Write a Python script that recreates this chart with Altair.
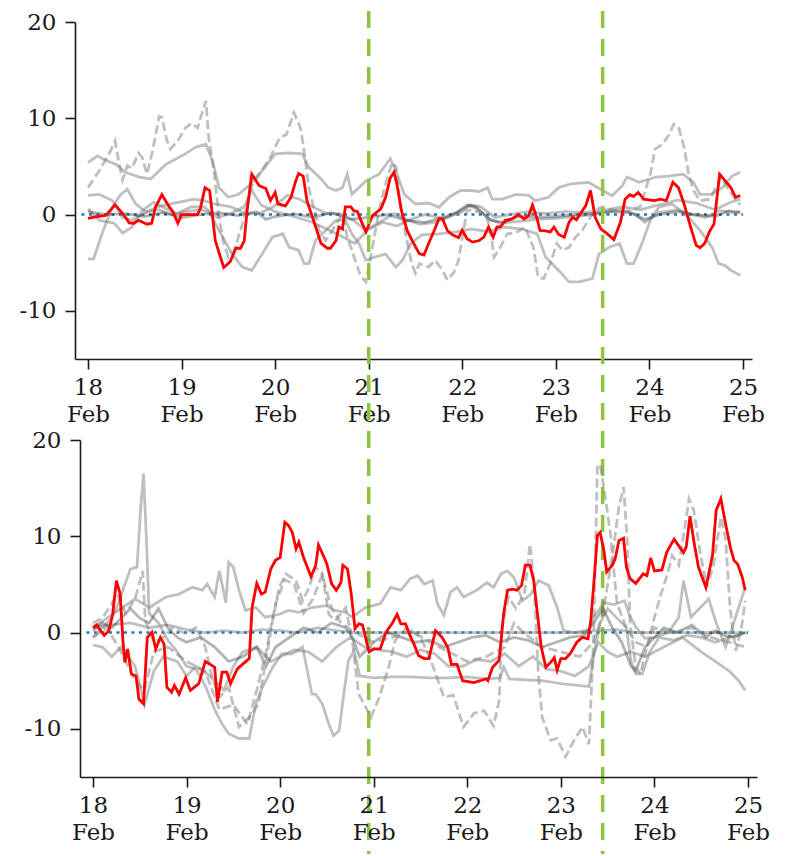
import altair as alt
import pandas as pd

# ---------------- data (day of February as decimal) ----------------
TOP_RED = [(18.0,-0.4),(18.1,-0.2),(18.19,-0.1),(18.29,1.0),(18.38,0.0),(18.44,-0.86),(18.49,-0.9),(18.54,-0.6),
 (18.63,-1.0),(18.68,-0.9),(18.72,0.76),(18.79,2.07),(18.86,0.93),(18.91,0.24),(18.96,-0.9),(19.0,0.0),(19.08,0.0),
 (19.17,0.0),(19.2,0.6),(19.25,2.8),(19.30,2.5),(19.36,-2.7),(19.45,-5.5),(19.52,-4.9),(19.58,-3.5),(19.63,-3.5),
 (19.67,-2.7),(19.70,0.4),(19.75,4.2),(19.83,3.0),(19.9,2.7),(19.95,1.45),(20.0,2.3),(20.03,1.1),(20.11,0.9),
 (20.17,1.8),(20.22,3.5),(20.25,4.27),(20.30,4.0),(20.34,1.45),(20.41,-0.6),(20.49,-3.0),(20.56,-3.5),(20.59,-3.5),
 (20.65,-2.7),(20.68,-1.3),(20.72,-1.5),(20.75,0.8),(20.81,0.8),(20.84,0.4),(20.88,0.3),(20.91,-0.45),(20.97,-1.8),
 (21.04,-0.1),(21.13,0.6),(21.18,1.8),(21.23,3.8),(21.27,4.4),(21.30,3.2),(21.35,0.4),(21.41,-1.65),(21.48,-3.0),
 (21.54,-4.06),(21.59,-4.2),(21.64,-3.0),(21.70,-1.65),(21.75,-0.45),(21.79,-0.45),(21.84,-1.65),(21.89,-2.07),
 (21.96,-2.4),(22.0,-1.6),(22.05,-2.5),(22.11,-2.86),(22.18,-2.7),(22.23,-2.35),(22.28,-1.3),(22.33,-2.35),
 (22.37,-1.3),(22.41,-1.25),(22.46,-0.6),(22.53,-0.45),(22.60,0.0),(22.66,-0.45),(22.71,-0.1),(22.75,1.0),
 (22.80,-0.45),(22.83,-1.65),(22.89,-1.7),(22.94,-1.8),(22.98,-1.3),(23.03,-2.07),(23.09,-2.35),(23.14,-0.8),
 (23.18,-0.28),(23.22,-0.55),(23.26,0.07),(23.32,0.93),(23.37,2.5),(23.42,-0.28),(23.48,-1.48),(23.55,-2.0),
 (23.62,-2.6),(23.69,-0.8),(23.74,1.6),(23.79,2.07),(23.83,1.9),(23.88,2.3),(23.94,1.6),(24.05,1.45),(24.12,1.6),
 (24.18,1.45),(24.25,3.35),(24.31,2.8),(24.37,1.1),(24.44,-1.3),(24.50,-3.2),(24.54,-3.45),(24.59,-3.0),
 (24.64,-1.8),(24.69,-0.97),(24.75,4.2),(24.81,3.5),(24.87,2.8),(24.92,1.8),(24.97,1.96)]

TOP_GRAY_A = [(18.0,5.4),(18.1,6.1),(18.2,5.6),(18.3,5.2),(18.4,4.4),(18.55,3.9),(18.67,3.7),(18.83,5.2),(19.04,6.3),
 (19.15,7.0),(19.26,7.3),(19.33,5.6),(19.4,2.8),(19.5,1.8),(19.61,2.1),(19.72,3.0),(19.86,4.55),(20.0,6.3),(20.15,6.4),
 (20.29,6.3),(20.36,4.9),(20.47,3.9),(20.57,2.8),(20.65,2.5),(20.72,2.8),(20.77,4.2),(20.82,2.1),(20.97,3.5),(21.11,4.2),
 (21.23,5.8),(21.29,4.55),(21.38,2.1),(21.5,1.1),(21.64,1.2),(21.75,0.76),(21.86,1.8),(21.98,2.5),(22.09,2.5),
 (22.18,2.4),(22.27,2.8),(22.32,1.6),(22.43,1.6),(22.57,2.1),(22.71,2.0),(22.78,1.45),(22.92,1.8),(23.03,2.8),
 (23.16,3.2),(23.35,3.35),(23.5,2.5),(23.6,1.96),(23.71,3.0),(23.76,3.9),(23.89,3.35),(24.07,3.9),(24.21,4.0),
 (24.36,4.2),(24.47,3.35),(24.54,2.1),(24.65,2.1),(24.78,2.8),(24.88,4.0),(24.97,4.4)]

TOP_GRAY_B = [(18.0,-4.6),(18.06,-4.6),(18.15,-2.0),(18.26,0.76),(18.35,2.1),(18.42,2.65),(18.51,1.1),(18.62,0.3),
 (18.75,0.5),(18.9,0.0),(19.05,0.3),(19.2,0.5),(19.3,0.2),(19.40,-1.65),(19.54,-4.1),(19.65,-5.45),(19.75,-5.8),
 (19.86,-4.1),(19.97,-2.35),(20.08,-2.0),(20.15,-3.4),(20.25,-3.7),(20.31,-5.1),(20.36,-5.1),(20.43,-2.7),
 (20.54,-1.65),(20.65,-0.6),(20.75,-0.6),(20.82,-2.0),(20.9,-3.1),(20.97,-4.75),(21.07,-4.4),(21.18,-4.1),
 (21.29,-5.45),(21.36,-4.75),(21.45,-3.0),(21.57,-2.1),(21.75,-2.0),(21.93,-1.8),(22.1,-1.5),(22.28,-1.8),
 (22.45,-1.3),(22.64,-1.5),(22.8,-2.0),(22.89,-4.4),(23.03,-5.8),(23.14,-7.0),(23.25,-7.0),(23.39,-6.65),
 (23.46,-4.1),(23.57,-3.4),(23.68,-3.0),(23.76,-5.1),(23.83,-5.1),(23.92,-3.0),(24.01,-0.6),(24.1,0.76),
 (24.24,1.1),(24.42,-0.28),(24.54,-1.65),(24.67,-3.4),(24.74,-5.1),(24.81,-5.3),(24.87,-5.8),(24.97,-6.3)]

TOP_GRAY_C = [(18.0,2.0),(18.12,2.1),(18.26,1.45),(18.37,-0.3),(18.47,-0.6),(18.6,0.1),(18.74,0.8),(18.88,1.1),
 (19.03,1.4),(19.13,1.6),(19.24,1.45),(19.35,1.1),(19.53,0.8),(19.68,0.1),(19.83,0.1),(19.98,0.8),(20.13,2.0),
 (20.26,1.6),(20.4,0.8),(20.55,0.1),(20.7,0.1),(20.84,-0.6),(20.97,-1.65),(21.1,-0.9),(21.27,0.1),(21.4,-0.5),
 (21.55,-1.0),(21.7,-0.8),(21.85,-0.3),(22.0,0.5),(22.1,1.0),(22.2,0.8),(22.35,-0.3),(22.5,0.0),(22.7,0.3),
 (22.9,0.1),(23.1,0.3),(23.3,0.2),(23.5,0.4),(23.7,0.8),(23.9,0.5),(24.1,1.0),(24.3,1.5),(24.5,1.2),(24.7,0.5),
 (24.85,1.2),(24.97,1.6)]

TOP_GRAY_D = [(18.0,0.6),(18.12,-0.6),(18.28,-0.9),(18.37,-1.9),(18.47,-1.3),(18.58,0.4),(18.7,1.3),(18.84,0.6),
 (18.95,0.1),(19.1,0.8),(19.24,0.8),(19.38,-0.3),(19.52,0.1),(19.67,0.8),(19.75,2.5),(19.85,1.0),(20.0,0.3),
 (20.2,-0.2),(20.4,-0.8),(20.55,-1.5),(20.7,-2.2),(20.85,-3.0),(21.0,-1.5),(21.15,-0.8),(21.3,-1.2),(21.45,-0.5),
 (21.6,0.0),(21.8,-0.4),(22.0,0.3),(22.07,1.0),(22.15,0.6),(22.3,-0.5),(22.4,-0.9),(22.6,-0.7),(22.8,-0.5),
 (23.0,-0.4),(23.2,-0.2),(23.4,0.0),(23.55,0.3),(23.7,0.5),(23.85,0.0),(23.95,-0.8),(24.1,0.2),(24.3,0.5),
 (24.45,0.0),(24.6,-0.3),(24.75,0.4),(24.9,0.2),(24.97,0.3)]

TOP_DARK = [(18.0,0.3),(18.2,0.0),(18.4,0.1),(18.6,-0.2),(18.8,0.2),(19.0,-0.3),(19.2,0.0),(19.4,0.2),(19.6,-0.1),
 (19.8,0.3),(19.9,-0.5),(20.0,-0.2),(20.2,0.1),(20.4,-0.3),(20.6,0.2),(20.8,-0.5),(21.0,-0.3),(21.2,0.0),(21.4,-0.6),
 (21.6,-0.8),(21.8,-0.3),(21.95,0.3),(22.05,1.0),(22.15,0.8),(22.3,-0.6),(22.45,-0.8),(22.6,-0.2),(22.8,-0.3),
 (23.0,-0.2),(23.2,0.0),(23.4,0.1),(23.6,0.3),(23.8,0.2),(23.95,-0.5),(24.1,0.0),(24.3,0.3),(24.5,0.0),(24.7,-0.2),
 (24.85,0.4),(24.97,0.2)]

TOP_DASHED = [(18.0,2.8),(18.12,4.55),(18.24,6.6),(18.29,7.65),(18.33,5.4),(18.37,3.6),(18.42,5.07),(18.47,4.8),
 (18.54,6.4),(18.58,5.9),(18.63,4.2),(18.69,6.6),(18.76,10.2),(18.79,10.1),(18.84,7.8),(18.88,6.8),(18.97,7.8),
 (19.04,9.0),(19.11,9.5),(19.17,9.0),(19.22,10.6),(19.26,11.8),(19.29,8.0),(19.35,4.2),(19.40,-0.28),(19.45,-3.0),
 (19.5,-4.4),(19.56,-3.8),(19.65,-1.0),(19.75,3.0),(19.85,4.5),(19.95,6.0),(20.05,8.0),(20.12,8.3),(20.2,10.6),
 (20.27,9.0),(20.31,6.6),(20.36,2.8),(20.47,-1.65),(20.54,-2.7),(20.61,-1.65),(20.72,0.07),(20.77,-2.3),
 (20.91,-6.3),(20.97,-7.0),(21.04,-3.4),(21.11,0.4),(21.18,3.2),(21.25,5.4),(21.29,5.0),(21.34,0.76),(21.40,-2.35),
 (21.46,-5.1),(21.5,-6.1),(21.54,-5.1),(21.64,-5.45),(21.71,-4.75),(21.79,-5.8),(21.84,-6.8),(21.91,-6.0),
 (21.96,-4.75),(22.0,-2.35),(22.05,0.4),(22.11,0.5),(22.18,0.2),(22.25,0.1),(22.30,-1.65),(22.34,-4.4),
 (22.39,-3.7),(22.48,-2.0),(22.57,-1.9),(22.67,-1.3),(22.76,-3.4),(22.81,-6.5),(22.87,-6.65),(22.94,-5.1),
 (23.01,-3.0),(23.07,-3.7),(23.14,-3.4),(23.21,-2.35),(23.28,-1.65),(23.35,-0.6),(23.41,0.4),(23.5,0.8),(23.6,0.5),
 (23.75,0.3),(23.9,0.8),(24.01,4.2),(24.06,6.8),(24.14,7.3),(24.21,8.3),(24.26,9.4),(24.31,9.1),(24.37,7.0),
 (24.42,4.2),(24.47,2.5),(24.54,1.45),(24.65,1.6),(24.71,2.8),(24.77,3.9),(24.85,2.5),(24.97,1.0)]

BOT_RED = [(18.0,0.5),(18.04,0.8),(18.08,0.2),(18.12,-0.3),(18.17,0.2),(18.21,1.9),(18.25,5.4),(18.29,4.0),
 (18.32,-0.83),(18.34,-3.1),(18.37,-1.7),(18.41,-4.3),(18.46,-4.5),(18.49,-6.9),(18.54,-7.4),(18.58,-0.5),
 (18.63,0.03),(18.67,-1.7),(18.72,-0.5),(18.76,-1.2),(18.79,-5.7),(18.84,-6.2),(18.87,-5.5),(18.92,-6.4),
 (18.99,-4.7),(19.04,-6.0),(19.13,-5.3),(19.20,-3.0),(19.27,-3.4),(19.30,-3.6),(19.33,-7.2),(19.38,-4.1),
 (19.43,-4.1),(19.47,-5.3),(19.54,-3.8),(19.61,-3.2),(19.67,-2.7),(19.70,2.6),(19.75,5.1),(19.80,4.0),(19.84,4.2),
 (19.90,6.6),(19.95,7.5),(20.0,7.8),(20.05,11.45),(20.09,11.1),(20.13,10.4),(20.17,8.7),(20.20,9.4),(20.25,7.8),
 (20.33,5.8),(20.38,7.0),(20.41,9.1),(20.47,7.8),(20.50,7.1),(20.55,5.05),(20.60,4.4),(20.65,5.2),(20.67,7.0),
 (20.72,6.6),(20.76,4.0),(20.80,0.4),(20.84,0.9),(20.88,0.8),(20.95,-2.0),(21.0,-1.7),(21.07,-1.7),(21.13,0.03),
 (21.20,1.0),(21.25,1.9),(21.29,0.9),(21.34,0.9),(21.38,-0.14),(21.43,-1.2),(21.48,-2.4),(21.54,-2.7),(21.59,-2.7),
 (21.66,0.2),(21.73,-0.5),(21.79,-1.5),(21.83,-3.3),(21.89,-3.3),(21.95,-5.0),(22.07,-5.2),(22.14,-5.0),(22.20,-4.8),
 (22.22,-5.0),(22.27,-3.6),(22.34,-2.9),(22.39,2.1),(22.43,4.4),(22.48,4.5),(22.53,4.4),(22.58,4.9),(22.62,7.0),
 (22.67,7.0),(22.71,5.4),(22.75,1.9),(22.79,-1.5),(22.84,-3.6),(22.89,-3.1),(22.93,-2.6),(22.96,-3.9),(23.0,-2.7),
 (23.05,-2.7),(23.10,-2.2),(23.17,-1.0),(23.23,-0.5),(23.29,-0.65),(23.32,1.25),(23.36,6.1),(23.39,10.1),
 (23.42,10.4),(23.46,8.5),(23.49,6.3),(23.55,7.0),(23.58,7.65),(23.62,9.55),(23.67,9.8),(23.70,6.8),(23.74,5.6),
 (23.80,5.1),(23.88,6.1),(23.92,5.9),(23.96,7.75),(24.0,6.4),(24.08,6.5),(24.13,8.3),(24.21,9.7),(24.26,9.0),
 (24.31,8.3),(24.34,8.9),(24.38,12.1),(24.42,9.55),(24.47,6.8),(24.55,4.7),(24.62,8.0),(24.66,12.7),(24.71,13.9),
 (24.76,11.3),(24.81,8.9),(24.85,7.5),(24.89,7.1),(24.94,5.7),(24.97,4.4)]

BOT_GRAY_A = [(18.0,-0.5),(18.1,0.5),(18.2,1.5),(18.27,3.0),(18.33,4.7),(18.4,6.6),(18.47,6.8),(18.51,13.0),
 (18.54,16.5),(18.57,9.9),(18.6,2.0),(18.7,1.0),(18.8,-0.8),(18.9,-2.0),(19.0,-3.5),(19.1,-3.8),(19.2,-5.5),
 (19.3,-8.0),(19.38,-9.5),(19.45,-10.5),(19.56,-11.0),(19.67,-11.0),(19.74,-7.4),(19.81,-5.7),(19.92,-3.6),
 (20.02,-2.2),(20.13,-2.2),(20.24,-1.5),(20.34,-6.4),(20.38,-6.4),(20.45,-7.4),(20.52,-9.5),(20.57,-10.7),
 (20.63,-10.2),(20.68,-6.4),(20.73,-2.9),(20.79,-1.9),(20.85,-4.5),(21.0,-4.7),(21.2,-4.6),(21.4,-4.6),(21.6,-4.7),
 (21.8,-4.7),(22.0,-4.6),(22.2,-4.8),(22.35,-4.7),(22.39,-3.6),(22.45,-4.8),(22.6,-4.9),(22.8,-5.0),(23.0,-5.3),
 (23.2,-5.5),(23.3,-5.6),(23.36,-2.0),(23.42,1.0),(23.5,2.5),(23.6,1.5),(23.7,0.5),(23.75,-3.0),(23.8,-4.3),
 (23.87,-4.3),(23.95,-2.0),(24.05,-0.5),(24.2,-0.8),(24.35,-0.3),(24.5,-0.5),(24.65,-1.0),(24.8,-0.5),(24.97,0.0)]

BOT_GRAY_B = [(18.0,0.5),(18.15,1.5),(18.3,2.5),(18.45,3.5),(18.6,2.6),(18.78,3.7),(18.92,4.0),(19.06,4.7),
 (19.17,4.4),(19.22,5.05),(19.3,3.7),(19.35,6.4),(19.42,3.1),(19.45,7.3),(19.5,6.8),(19.56,4.4),(19.63,2.3),
 (19.74,2.6),(19.84,1.6),(19.99,1.9),(20.09,2.3),(20.2,2.1),(20.34,2.6),(20.49,2.8),(20.59,2.3),(20.7,2.1),
 (20.77,1.6),(20.91,2.6),(21.07,3.0),(21.18,4.7),(21.29,4.4),(21.39,5.6),(21.47,5.9),(21.54,5.05),(21.63,5.4),
 (21.68,3.0),(21.75,1.8),(21.82,4.2),(21.89,4.7),(21.96,3.7),(22.1,4.4),(22.21,5.2),(22.28,4.7),(22.36,6.1),
 (22.43,6.4),(22.5,5.7),(22.59,3.3),(22.68,4.0),(22.76,5.4),(22.87,4.9),(22.96,2.6),(23.03,0.2),(23.15,0.0),
 (23.3,0.3),(23.35,1.6),(23.46,3.1),(23.57,2.9),(23.68,3.3),(23.73,1.9),(23.8,0.6),(23.9,-0.6),(24.0,-0.5),
 (24.15,0.0),(24.26,1.6),(24.31,5.4),(24.39,1.6),(24.53,3.0),(24.58,3.5),(24.66,1.0),(24.76,-1.5),(24.83,0.5),
 (24.97,4.7)]

BOT_GRAY_C = [(18.0,-1.3),(18.1,-1.5),(18.2,-2.5),(18.3,-1.5),(18.45,-3.5),(18.55,-7.5),(18.65,-4.0),(18.75,-2.5),
 (18.9,-3.0),(19.0,-4.5),(19.1,-3.5),(19.25,-4.5),(19.4,-6.0),(19.5,-3.5),(19.6,-2.0),(19.75,-1.5),(19.9,-3.0),
 (20.0,-2.5),(20.15,-1.8),(20.3,-2.0),(20.45,-3.0),(20.6,-1.5),(20.75,-0.5),(20.9,-1.5),(21.05,-1.8),(21.2,-2.0),
 (21.35,-2.5),(21.5,-1.8),(21.65,-2.2),(21.8,-3.5),(21.95,-3.5),(22.1,-2.8),(22.25,-3.0),(22.4,-2.2),(22.55,-3.5),
 (22.7,-2.5),(22.85,-3.8),(23.0,-4.0),(23.15,-4.5),(23.3,-3.5),(23.4,-1.0),(23.5,-2.0),(23.6,-2.5),(23.75,-2.0),
 (23.9,-2.5),(24.1,-1.5),(24.3,-0.5),(24.5,-2.0),(24.65,-3.0),(24.8,-4.0),(24.9,-5.0),(24.97,-6.0)]

BOT_GRAY_D = [(18.0,0.5),(18.2,0.8),(18.4,1.0),(18.6,0.5),(18.8,0.8),(19.0,0.3),(19.2,0.0),(19.4,0.2),(19.6,0.0),
 (19.8,0.3),(20.0,0.2),(20.2,0.0),(20.4,0.5),(20.6,0.2),(20.8,0.0),(21.0,0.0),(21.5,0.0),(22.0,0.0),(22.5,0.0),
 (23.0,0.0),(23.2,0.0),(23.4,0.2),(23.6,0.3),(23.8,0.0),(24.0,0.0),(24.5,0.0),(24.97,0.0)]

BOT_DARK = [(18.0,0.2),(18.1,1.0),(18.2,0.5),(18.3,1.5),(18.4,2.5),(18.5,1.5),(18.6,1.0),(18.7,2.5),(18.8,0.5),
 (18.9,-0.5),(19.0,-1.0),(19.15,-0.5),(19.3,-1.5),(19.45,-3.0),(19.6,-2.5),(19.75,-1.5),(19.85,-3.5),(19.95,-1.5),
 (20.1,-0.5),(20.25,0.5),(20.4,0.0),(20.55,1.0),(20.7,0.5),(20.77,-0.5),(20.85,-2.5),(21.0,-1.0),(21.15,0.0),
 (21.3,-0.5),(21.45,-1.0),(21.6,-0.8),(21.75,-1.5),(21.9,-1.0),(22.05,-0.5),(22.2,-0.3),(22.35,-1.0),(22.5,-0.5),
 (22.65,-0.8),(22.8,-1.5),(22.95,-1.0),(23.1,-0.5),(23.25,-0.3),(23.35,1.0),(23.45,2.5),(23.55,0.5),(23.65,-1.0),
 (23.75,-3.5),(23.8,-4.0),(23.9,-1.5),(24.0,-0.5),(24.1,0.5),(24.25,0.0),(24.4,0.8),(24.55,-0.5),(24.65,0.2),
 (24.75,-0.3),(24.85,-0.5),(24.97,0.0)]

BOT_DASHED_A = [(18.0,1.0),(18.1,1.5),(18.2,3.0),(18.26,4.0),(18.35,2.0),(18.45,3.5),(18.53,6.4),(18.56,1.2),
 (18.65,-1.0),(18.75,-0.5),(18.85,0.5),(18.99,-0.1),(19.1,0.5),(19.2,-1.5),(19.27,-4.6),(19.35,-6.7),(19.45,-5.7),
 (19.56,-9.8),(19.67,-8.8),(19.77,-7.4),(19.84,-3.3),(19.92,1.25),(19.99,4.7),(20.06,6.1),(20.17,5.4),(20.24,3.3),
 (20.31,4.7),(20.38,6.8),(20.45,6.1),(20.52,1.9),(20.59,1.25),(20.7,2.6),(20.77,-0.8),(20.84,-6.4),(20.95,-8.4),
 (20.97,-8.8),(21.06,-6.7),(21.16,-3.6),(21.23,-0.8),(21.35,0.5),(21.5,-0.5),(21.6,-2.6),(21.75,-6.7),(21.85,-6.5),
 (21.96,-9.8),(22.07,-8.4),(22.18,-8.1),(22.28,-9.7),(22.34,-7.1),(22.37,0.6),(22.44,3.7),(22.52,2.5),(22.61,4.0),
 (22.67,9.2),(22.71,5.4),(22.76,-4.3),(22.8,-8.8),(22.89,-11.2),(22.96,-11.0),(23.05,-12.9),(23.14,-11.2),
 (23.23,-9.8),(23.3,-11.6),(23.35,-0.8),(23.39,17.2),(23.42,17.5),(23.48,13.7),(23.53,10.2),(23.6,3.0),(23.7,0.5),
 (23.8,-1.0),(23.92,-1.5),(24.0,1.6),(24.07,4.0),(24.14,6.1),(24.19,8.0),(24.26,7.0),(24.33,11.3),(24.37,13.9),
 (24.42,12.7),(24.49,8.2),(24.56,4.7),(24.63,7.0),(24.71,12.0),(24.76,9.7),(24.81,2.3),(24.87,-1.9),(24.93,0.5),
 (24.97,3.3)]

BOT_DASHED_B = [(18.0,-0.5),(18.15,0.5),(18.3,-2.0),(18.45,-5.0),(18.55,-6.0),(18.65,-2.0),(18.8,-1.5),(19.0,-3.0),
 (19.2,-4.0),(19.35,-8.0),(19.5,-7.5),(19.65,-9.5),(19.75,-6.0),(19.85,-2.0),(19.95,3.0),(20.05,5.5),(20.15,5.0),
 (20.25,2.0),(20.35,3.5),(20.45,6.0),(20.55,2.5),(20.65,1.0),(20.8,0.0),(21.0,-1.0),(21.2,-0.5),(21.4,0.2),
 (21.6,-1.0),(21.8,-2.0),(22.0,-3.0),(22.2,-2.5),(22.4,-1.5),(22.5,1.0),(22.6,0.0),(22.8,-1.5),(23.0,-2.0),
 (23.2,-2.5),(23.35,-1.0),(23.45,2.0),(23.55,8.0),(23.62,13.0),(23.67,15.1),(23.71,9.55),(23.74,0.9),(23.8,-3.6),
 (23.85,-4.3),(23.92,-1.5),(24.0,0.5),(24.2,0.0),(24.4,0.5),(24.6,-0.5),(24.8,-1.0),(24.97,-1.5)]

ZERO_LINE = {"x0": [17.93], "x1": [25.0], "y": [0]}
EVENTS = [21.0, 23.5]          # green dashed markers (21 Feb 00:00, 23 Feb 12:00)
X_DOMAIN = [17.861, 25.096]
Y_DOMAIN = [-15, 20]
X_TICKS = [18, 19, 20, 21, 22, 23, 24, 25]
Y_TICKS = [-10, 0, 10, 20]

GRAY = "#808080"
RED = "#ff0000"
BLUE = "#1f77b4"
GREEN = "#8cc63f"
FONT = "DejaVu Serif"
W, H = 677, 337
LW = 2.8


def to_df(series_dict):
    rows = []
    for name, pts in series_dict.items():
        for t, v in pts:
            rows.append({"series": name, "t": t, "v": v})
    return pd.DataFrame(rows)


def xenc(field, shift):
    scale = alt.Scale(domain=X_DOMAIN, nice=False, zero=False)
    if shift:
        scale = alt.Scale(domain=X_DOMAIN, nice=False, zero=False, range=[shift, W + shift])
    return alt.X(field, type="quantitative", scale=scale,
                 axis=alt.Axis(values=X_TICKS, title=None, grid=False,
                               labelExpr="['' + datum.value, 'Feb']"))


def yenc(field, offset):
    ax = dict(values=Y_TICKS, title=None, grid=False,
              labelExpr="datum.value < 0 ? '-' + abs(datum.value) : '' + datum.value")
    if offset:
        ax["offset"] = offset
    return alt.Y(field, type="quantitative",
                 scale=alt.Scale(domain=Y_DOMAIN, nice=False, zero=False),
                 axis=alt.Axis(**ax))


def panel(red, solids, darks, dashed, shift=0, with_events=False):
    X = lambda f: xenc(f, shift)
    Y = lambda f: yenc(f, -shift if shift else 0)
    zero = alt.Chart(pd.DataFrame(ZERO_LINE)).mark_rule(
        color=BLUE, strokeDash=[3, 4.5], strokeWidth=2.5).encode(
        x=X("x0"), x2="x1", y=Y("y"))
    g_solid = alt.Chart(to_df(solids)).mark_line(
        color=GRAY, opacity=0.5, strokeWidth=LW).encode(
        x=X("t"), y=Y("v"), detail="series:N", order="t:Q")
    g_dark = alt.Chart(to_df(darks)).mark_line(
        color="#000000", opacity=0.3, strokeWidth=LW).encode(
        x=X("t"), y=Y("v"), detail="series:N", order="t:Q")
    g_dash = alt.Chart(to_df(dashed)).mark_line(
        color=GRAY, opacity=0.5, strokeWidth=LW, strokeDash=[9, 4]).encode(
        x=X("t"), y=Y("v"), detail="series:N", order="t:Q")
    r = alt.Chart(to_df({"red": red})).mark_line(
        color=RED, strokeWidth=LW).encode(x=X("t"), y=Y("v"), order="t:Q")
    layers = [zero, g_solid, g_dark, g_dash, r]
    if with_events:
        ev = alt.Chart(pd.DataFrame({"t": EVENTS})).mark_rule(
            color=GREEN, strokeDash=[17, 11], strokeWidth=3.5).encode(
            x=X("t"), y=alt.value(-11), y2=alt.value(832))
        layers.append(ev)
    return alt.layer(*layers).properties(width=W + shift, height=H)


top = panel(TOP_RED, {"a": TOP_GRAY_A, "b": TOP_GRAY_B, "c": TOP_GRAY_C, "d": TOP_GRAY_D},
            {"k": TOP_DARK}, {"e": TOP_DASHED}, shift=0, with_events=True)
bottom = panel(BOT_RED, {"a": BOT_GRAY_A, "b": BOT_GRAY_B, "c": BOT_GRAY_C, "d": BOT_GRAY_D},
               {"k": BOT_DARK}, {"e": BOT_DASHED_A, "f": BOT_DASHED_B}, shift=5)

chart = alt.vconcat(top, bottom, spacing=81, bounds="flush").properties(
    padding={"left": 18, "top": 9, "right": 0, "bottom": 0}
).configure_view(strokeWidth=0).configure_axis(
    labelFont=FONT, labelFontSize=23, labelColor="#1a1a1a",
    domainColor="#1a1a1a", domainWidth=1.6, tickColor="#1a1a1a", tickWidth=1.6, tickSize=10,
).configure_axisY(labelPadding=9).configure_axisX(labelPadding=7, labelLineHeight=27)

chart.save("out.html", embed_options={"renderer": "svg", "actions": False})
